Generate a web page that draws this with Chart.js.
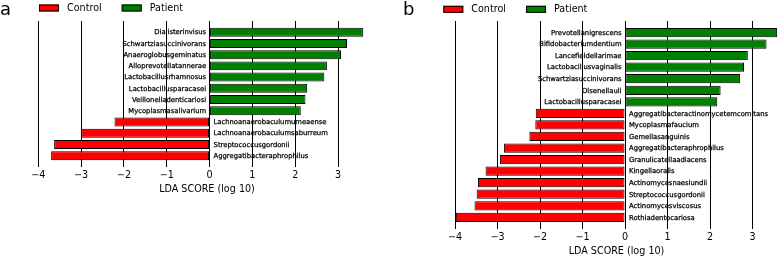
<!DOCTYPE html>
<html><head><meta charset="utf-8">
<script src="https://cdn.jsdelivr.net/npm/chart.js@4.4.1/dist/chart.umd.min.js"></script>
<style>
html,body{margin:0;padding:0;background:#fff;width:778px;height:256px;overflow:hidden}
canvas{position:absolute;top:0}
#ca{left:0}
#cb{left:390px}
</style></head>
<body>
<canvas id="ca" width="390" height="256"></canvas>
<canvas id="cb" width="388" height="256"></canvas>
<script>
// ---- data ----
const seriesNames = ['Control', 'Patient'];
const xTicks = [-4, -3, -2, -1, 0, 1, 2, 3];
const axisTitle = 'LDA SCORE (log 10)';

const aPatientTaxa = ['Dialisterinvisus','Schwartziasuccinivorans','Anaeroglobusgeminatus','Alloprevotellatannerae','Lactobacillusrhamnosus','Lactobacillusparacasei','Veillonelladenticariosi','Mycoplasmasalivarium'];
const aPatientLDA  = [3.59, 3.21, 3.07, 2.74, 2.68, 2.28, 2.24, 2.13];
const aControlTaxa = ['Lachnoanaerobaculumumeaense','Lachnoanaerobaculumsaburreum','Streptococcusgordonii','Aggregatibacteraphrophilus'];
const aControlLDA  = [-2.22, -3.00, -3.63, -3.70];

const bPatientTaxa = ['Prevotellanigrescens','Bifidobacteriumdentium','Lancefieldellarimae','Lactobacillusvaginalis','Schwartziasuccinivorans','Olsenellauli','Lactobacillusparacasei'];
const bPatientLDA  = [3.58, 3.33, 2.89, 2.80, 2.71, 2.25, 2.17];
const bControlTaxa = ['Aggregatibacteractinomycetemcomitans','Mycoplasmafaucium','Gemellasanguinis','Aggregatibacteraphrophilus','Granulicatellaadiacens','Kingellaoralis','Actinomycesnaeslundii','Streptococcusgordonii','Actinomycesviscosus','Rothiadentocariosa'];
const bControlLDA  = [-2.10, -2.11, -2.25, -2.85, -2.94, -3.28, -3.46, -3.49, -3.54, -3.98];

const FONT = 'DejaVu Sans';

const panelPlugin = {
  id: 'panelDeco',
  afterDraw(chart, args, opts) {
    const ctx = chart.ctx;
    const xs = chart.scales.x;
    const x0 = xs.getPixelForValue(0);
    ctx.save();
    // bar labels
    ctx.font = '6.8px "' + FONT + '"';
    ctx.fillStyle = '#000';
    ctx.strokeStyle = '#000';
    ctx.lineWidth = 0.25;
    ctx.textBaseline = 'middle';
    chart.data.datasets.forEach((ds, di) => {
      const meta = chart.getDatasetMeta(di);
      meta.data.forEach((el, i) => {
        const v = ds.data[i];
        if (v === null || v === undefined) return;
        const lbl = chart.data.labels[i];
        let tx;
        if (v > 0) { ctx.textAlign = 'right'; tx = x0 - 3.5; }
        else { ctx.textAlign = 'left'; tx = x0 + 4; }
        ctx.fillText(lbl, tx, el.y + 0.5);
        ctx.strokeText(lbl, tx, el.y + 0.5);
      });
    });
    // panel letter
    ctx.font = '18px "' + FONT + '"';
    ctx.textAlign = 'left';
    ctx.textBaseline = 'alphabetic';
    ctx.fillText(opts.letter, opts.letterX, 15);
    // legend
    ctx.font = '9.6px "' + FONT + '"';
    ctx.textBaseline = 'middle';
    let x = opts.legendX;
    const y = opts.legendY;
    chart.data.datasets.forEach(ds => {
      ctx.fillStyle = ds.backgroundColor;
      ctx.fillRect(x, y - 3.5, 20, 7);
      ctx.strokeStyle = '#000';
      ctx.lineWidth = 1;
      ctx.strokeRect(x + 0.5, y - 3.5 + 0.5, 19, 6);
      ctx.fillStyle = '#000';
      ctx.fillText(ds.label, x + 28, y + 0.5);
      x += 28 + ctx.measureText(ds.label).width + 20;
    });
    ctx.restore();
  }
};

function makePanel(id, patientTaxa, patientLDA, controlTaxa, controlLDA, o) {
  const labels = [''].concat(patientTaxa, controlTaxa, ['']);
  const nP = patientTaxa.length, nC = controlTaxa.length;
  const ctrl = [null].concat(new Array(nP).fill(null), controlLDA, [null]);
  const pat = [null].concat(patientLDA, new Array(nC).fill(null), [null]);
  return new Chart(document.getElementById(id), {
    type: 'bar',
    data: {
      labels: labels,
      datasets: [
        { label: seriesNames[0], data: ctrl, backgroundColor: '#ff0000' },
        { label: seriesNames[1], data: pat, backgroundColor: '#008000' }
      ]
    },
    options: {
      indexAxis: 'y',
      responsive: false,
      animation: false,
      events: [],
      layout: { padding: o.padding },
      datasets: { bar: { grouped: false, barPercentage: 0.8, categoryPercentage: 1, borderWidth: 1, borderColor: '#000', borderSkipped: false } },
      plugins: {
        legend: { display: false },
        tooltip: { enabled: false },
        panelDeco: o.deco
      },
      scales: {
        x: {
          type: 'linear', min: o.min, max: o.max, z: 1,
          afterBuildTicks: s => { s.ticks = xTicks.map(v => ({ value: v })); },
          grid: { color: '#000', lineWidth: 1, drawTicks: false },
          border: { display: false },
          ticks: {
            color: '#000', padding: 3,
            font: { family: FONT, size: 9.6 },
            callback: v => v < 0 ? '\u2212' + Math.abs(v) : String(v)
          },
          title: { display: true, text: axisTitle, color: '#000', padding: { top: 0, bottom: 0 }, font: { family: FONT, size: 9.6, lineHeight: 1.0 } }
        },
        y: { type: 'category', offset: false, display: false }
      }
    },
    plugins: [panelPlugin]
  });
}

makePanel('ca', aPatientTaxa, aPatientLDA, aControlTaxa, aControlLDA, {
  min: -4, max: 3.88,
  padding: { left: 38.3, right: 14.3, top: 21, bottom: 62 },
  deco: { letter: 'a', letterX: 0, legendX: 39, legendY: 8 }
});
makePanel('cb', bPatientTaxa, bPatientLDA, bControlTaxa, bControlLDA, {
  min: -4, max: 3.6,
  padding: { left: 65, right: 0, top: 21, bottom: 0 },
  deco: { letter: 'b', letterX: 13, legendX: 53.3, legendY: 9.3 }
});
</script>
</body></html>
